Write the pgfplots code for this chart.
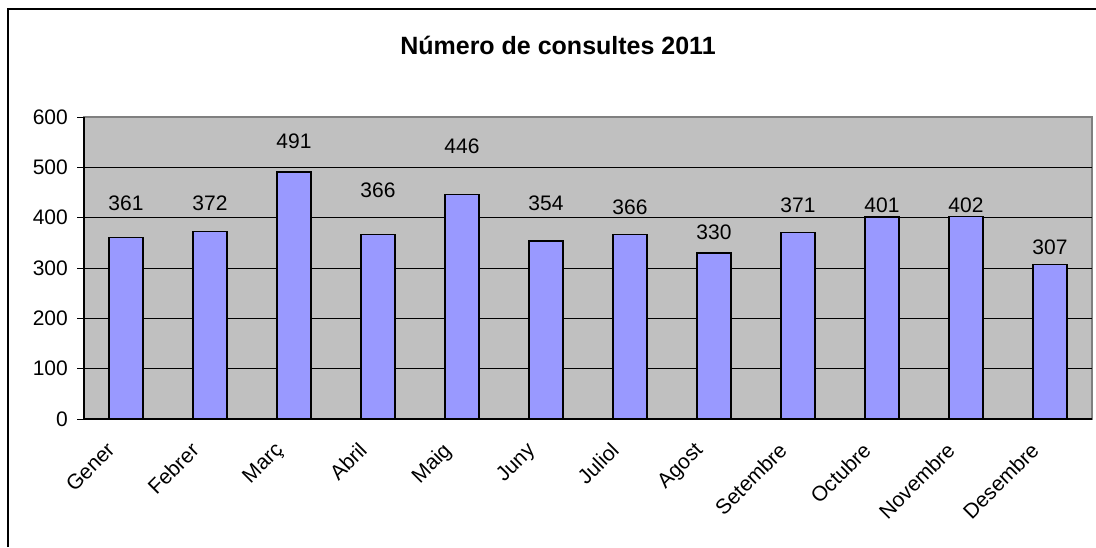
\documentclass[border=0pt]{standalone}
\usepackage{fontspec}
\setmainfont{Liberation Sans}
\usepackage{pgfplots}
\pgfplotsset{compat=1.18}
\usepackage{pgfplotstable}

\definecolor{plotbg}{HTML}{C0C0C0}
\definecolor{barfill}{HTML}{9999FF}
\definecolor{plotborder}{HTML}{808080}

% month, value
\pgfplotstableread{
x  y
0  361
1  372
2  491
3  366
4  446
5  354
6  366
7  330
8  371
9  401
10 402
11 307
}\consultes

% where Excel left the data labels (label centre, in data units)
\pgfplotstableread{
x  ly  v
0  428 361
1  428 372
2  552 491
3  455 366
4  541 446
5  428 354
6  420 366
7  370 330
8  424 371
9  424 401
10 424 402
11  342 307
}\etiquetes

\begin{document}
\begin{tikzpicture}
\path[use as bounding box] (0,0) rectangle (1096pt,547pt);
% chart frame (only left and top edges fall inside the image)
\draw[line width=1.5pt] (8pt,0) -- (8pt,538pt) -- (1096pt,538pt);

\node[font=\bfseries\fontsize{25}{29}\selectfont] at (558pt,502pt) {Número de consultes 2011};

\begin{axis}[
    at={(84pt,128pt)}, anchor=south west,
    scale only axis,
    width=1008pt, height=302pt,
    xmin=-0.5, xmax=11.5,
    ymin=0, ymax=600,
    axis background/.style={fill=plotbg, draw=plotborder, line width=1.2pt},
    axis x line*=bottom, axis y line*=left,
    axis line style={line width=1.1pt, black},
    tick align=outside,
    ytick={0,100,...,500},
    extra y ticks={600},
    extra tick style={grid=none},
    ymajorgrids,
    major grid style={black, line width=0.9pt},
    major tick length=7pt,
    tick style={black, line width=1pt},
    xtick={0,...,11},
    xticklabels={Gener,Febrer,Març,Abril,Maig,Juny,Juliol,Agost,Setembre,Octubre,Novembre,Desembre},
    x tick style={draw=none},
    minor xtick={-0.5,0.5,...,11.5},
    minor x tick style={black, line width=1pt},
    minor tick length=6pt,
    xticklabel style={rotate=45, anchor=north east, inner sep=2pt, xshift=-23pt, yshift=6pt},
    yticklabel style={inner sep=3pt, xshift=-6pt},
    tick label style={font=\fontsize{21}{25}\selectfont},
    /pgf/number format/assume math mode=true,
    clip=false,
]
\addplot[ybar, bar width=0.405, fill=barfill, draw=black, line width=1.4pt] table[x=x, y=y] {\consultes};
\addplot[draw=none, mark=none, nodes near coords, point meta=explicit symbolic,
    nodes near coords style={anchor=center, font=\fontsize{21}{25}\selectfont, inner sep=0pt}]
    table[x=x, y=ly, meta=v] {\etiquetes};
\end{axis}
\end{tikzpicture}
\end{document}
